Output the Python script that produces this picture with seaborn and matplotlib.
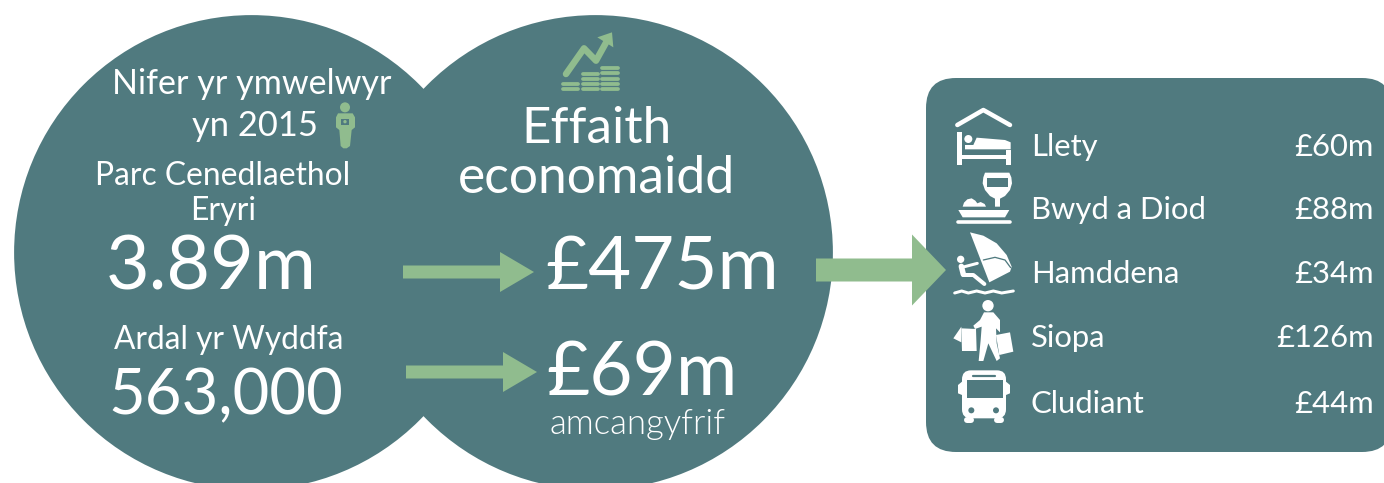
import numpy as np
import pandas as pd
import seaborn as sns
import matplotlib
matplotlib.use('Agg')
import matplotlib.pyplot as plt
from matplotlib.patches import Polygon, Circle, FancyBboxPatch

# values
categories = ['Llety', 'Bwyd a Diod', 'Hamddena', 'Siopa', 'Cludiant']
spend = [60, 88, 34, 126, 44]
visitors = ['3.89m', '563,000']
impact = ['£475m', '£69m']

teal = '#507A7F'
green = '#90BC8E'
white = '#FFFFFF'

sns.set_theme(style='white')
plt.rcParams['font.family'] = ['Lato', 'DejaVu Sans']

fig = plt.figure(figsize=(13.84, 4.83), dpi=100)
ax = fig.add_axes([0, 0, 1, 1])

# two big overlapping circles
circles = pd.DataFrame({'x': [251.4, 594.6], 'y': [252, 252]})
sns.scatterplot(data=circles, x='x', y='y', s=(2 * 237.4 * 0.72) ** 2, color=teal,
                linewidth=0, ax=ax, legend=False, zorder=1)
ax.set_xlim(0, 1384)
ax.set_ylim(483, 0)
ax.axis('off')

# panel on the right
ax.add_patch(FancyBboxPatch((926, 78), 466, 374, boxstyle='round,pad=0,rounding_size=30',
                            fc=teal, ec='none', zorder=1))


def arrow(x0, x1, x2, y, shaft, head):
    pts = [(x0, y - shaft), (x1, y - shaft), (x1, y - head), (x2, y),
           (x1, y + head), (x1, y + shaft), (x0, y + shaft)]
    ax.add_patch(Polygon(pts, closed=True, fc=green, ec='none', zorder=3))


arrow(403, 500, 534, 272, 6.5, 20)
arrow(406, 503, 537, 372, 6.5, 20)
arrow(816, 912, 946, 270, 11.5, 35.5)


def poly(pts, ox, oy, c=white):
    ax.add_patch(Polygon([(ox + a / 3, oy + b / 3) for a, b in pts], closed=True,
                         fc=c, ec='none', zorder=4))


def line(pts, ox, oy, w, c=white):
    xs = [ox + a / 3 for a, b in pts]
    ys = [oy + b / 3 for a, b in pts]
    ax.plot(xs, ys, color=c, lw=w * 0.72, solid_capstyle='round',
            solid_joinstyle='round', zorder=4)


def dot(a, b, r, ox, oy, c=white):
    ax.add_patch(Circle((ox + a / 3, oy + b / 3), r / 3, fc=c, ec='none', zorder=5))


# growth chart and coins
ox, oy = 320, 20
line([(738, 162), (792, 85), (828, 122), (858, 68)], ox, oy, 6.5, green)
poly([(832, 52), (876, 37), (880, 82)], ox, oy, green)
for x0, x1, rows in [(730, 773, [192, 207]), (790, 833, [161, 176, 192, 207]),
                     (847, 893, [145, 160, 176, 192, 207])]:
    for r in rows:
        line([(x0, r), (x1, r)], ox, oy, 3.8, green)

# visitor figure
dot(75, 262, 15, ox, oy, green)
poly([(54, 280), (98, 280), (105, 292), (105, 322), (95, 330), (90, 378), (80, 385), (70, 385),
      (62, 378), (58, 330), (48, 322), (48, 292)], ox, oy, green)
poly([(63, 296), (88, 296), (88, 314), (63, 314)], ox, oy, teal)
dot(75, 305, 5, ox, oy, green)

# bed
ox, oy = 940, 90
line([(52, 105), (130, 60), (210, 105)], ox, oy, 4.5)
poly([(52, 125), (65, 125), (65, 195), (198, 195), (198, 180), (212, 180), (212, 224), (198, 224),
      (198, 208), (65, 208), (65, 224), (52, 224)], ox, oy)
dot(85, 147, 12, ox, oy)
poly([(75, 165), (100, 165), (110, 143), (195, 150), (212, 157), (212, 178), (75, 178)], ox, oy)

# wine and plate
poly([(135, 248), (208, 248), (214, 262), (216, 280), (210, 300), (195, 318), (180, 326), (180, 350),
      (165, 350), (165, 326), (150, 318), (135, 300), (128, 280), (130, 262)], ox, oy)
poly([(142, 264), (203, 264), (203, 290), (142, 290)], ox, oy, teal)
poly([(68, 350), (72, 338), (82, 328), (95, 325), (106, 332), (112, 340), (122, 336), (134, 342),
      (138, 350)], ox, oy)
poly([(55, 360), (208, 360), (195, 382), (68, 382)], ox, oy)
line([(53, 395), (210, 395)], ox, oy, 3.6)

# windsurfer
ox, oy = 940, 225
poly([(90, 22), (130, 32), (170, 55), (200, 90), (215, 125), (210, 140), (148, 172)], ox, oy)
line([(130, 105), (165, 97), (195, 105), (212, 128)], ox, oy, 1.3, teal)
dot(62, 103, 11, ox, oy)
line([(112, 115), (70, 126)], ox, oy, 3)
line([(64, 124), (70, 148)], ox, oy, 5.5)
line([(70, 150), (100, 150), (133, 177)], ox, oy, 4)
line([(44, 204), (65, 198), (85, 204), (110, 198), (135, 204), (160, 198), (185, 204), (220, 198)],
     ox, oy, 3)

# shopper
dot(144, 242, 17, ox, oy)
poly([(132, 262), (160, 262), (180, 285), (180, 322), (168, 310), (170, 355), (180, 400), (170, 408),
      (145, 355), (130, 408), (116, 408), (122, 345), (125, 305), (105, 312), (100, 302), (120, 285)],
     ox, oy)
poly([(64, 310), (108, 312), (110, 378), (66, 378)], ox, oy)
poly([(64, 305), (40, 340), (64, 352)], ox, oy)
poly([(168, 330), (210, 322), (220, 380), (178, 390)], ox, oy)

# bus
ax.add_patch(FancyBboxPatch((940 + 66 / 3, 225 + 436 / 3), 132 / 3, 144 / 3,
                            boxstyle='round,pad=0,rounding_size=9', fc=white, ec='none', zorder=4))
poly([(54, 480), (66, 470), (66, 510), (54, 505)], ox, oy)
poly([(198, 470), (210, 480), (210, 505), (198, 510)], ox, oy)
line([(82, 585), (92, 585)], ox, oy, 6)
line([(172, 585), (182, 585)], ox, oy, 6)
poly([(82, 465), (190, 465), (190, 520), (82, 520)], ox, oy, teal)
line([(98, 454), (166, 454)], ox, oy, 2.2, teal)
dot(94, 556, 9, ox, oy, teal)
dot(168, 556, 9, ox, oy, teal)

# text in the circles
ax.text(252, 94, 'Nifer yr ymwelwyr', fontsize=24.6, color=white, ha='center', va='baseline', zorder=6)
ax.text(255, 136, 'yn 2015', fontsize=24.8, color=white, ha='center', va='baseline', zorder=6)
ax.text(223, 185, 'Parc Cenedlaethol', fontsize=22.9, color=white, ha='center', va='baseline', zorder=6)
ax.text(223, 220, 'Eryri', fontsize=23, color=white, ha='center', va='baseline', zorder=6)
ax.text(211.5, 289, visitors[0], fontsize=54.3, color=white, ha='center', va='baseline', zorder=6)
ax.text(229, 349, 'Ardal yr Wyddfa', fontsize=22.8, color=white, ha='center', va='baseline', zorder=6)
ax.text(226, 414, visitors[1], fontsize=45.6, color=white, ha='center', va='baseline', zorder=6)

ax.text(597, 143, 'Effaith', fontsize=36.8, color=white, ha='center', va='baseline', zorder=6)
ax.text(596, 193, 'economaidd', fontsize=37.2, color=white, ha='center', va='baseline', zorder=6)
ax.text(662.5, 290, impact[0], fontsize=53.6, color=white, ha='center', va='baseline', zorder=6)
ax.text(641.5, 395, impact[1], fontsize=53.8, color=white, ha='center', va='baseline', zorder=6)
ax.text(637.5, 434, 'amcangyfrif', fontsize=25, color=white, ha='center', va='baseline',
        fontweight=300, zorder=6)

# spending rows
row_y = [156, 219, 283, 347, 413]
for name, val, y in zip(categories, spend, row_y):
    ax.text(1031, y, name, fontsize=22.3, color=white, ha='left', va='baseline', zorder=6)
    ax.text(1374, y, f'£{val}m', fontsize=22.3, color=white, ha='right', va='baseline', zorder=6)

fig.savefig('out.png', dpi=100, facecolor='white')
